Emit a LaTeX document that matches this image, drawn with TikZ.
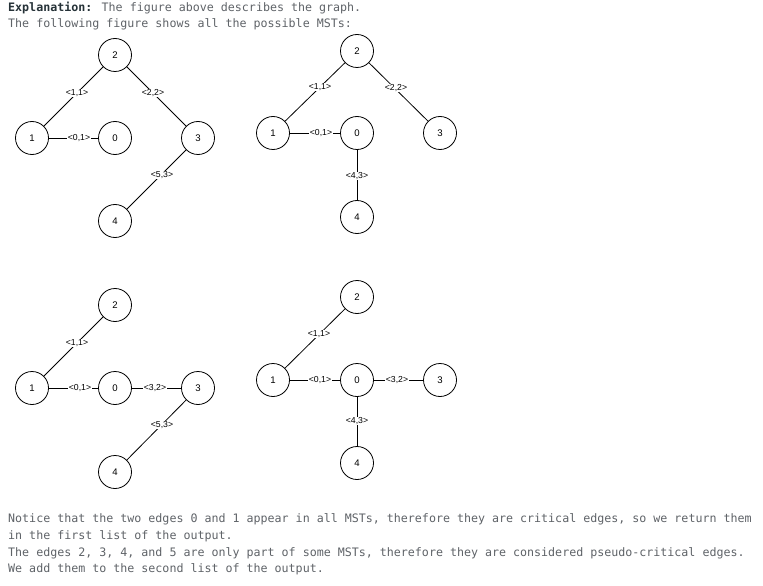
\documentclass[tikz,border=0pt]{standalone}
\usepackage{fontspec}
\setmainfont{Liberation Sans}
\newfontfamily\codefont{DejaVu Sans Mono}
\definecolor{txtgray}{RGB}{95,99,104}
\definecolor{txtdark}{RGB}{38,50,56}
\tikzset{
  vtx/.style={circle,draw=black,line width=0.8bp,fill=white,minimum size=33bp,inner sep=0pt,font=\fontsize{9.6bp}{10bp}\selectfont},
  edge/.style={draw=black,line width=0.8bp},
  lbl/.style={fill=white,inner sep=0.6bp,font=\fontsize{8.7bp}{9bp}\selectfont},
  para/.style={anchor=base west,inner sep=0pt,text=txtgray,font=\codefont\fontsize{11.65bp}{16.7bp}\selectfont}
}
\begin{document}
\begin{tikzpicture}[x=1bp,y=-1bp]
\useasboundingbox[fill=white] (0,0) rectangle (763,586);

% header text
\node[para] (t1) at (8,12) {\textcolor{txtdark}{\bfseries Explanation:} The figure above describes the graph.};
\node[para] (t2) at (8,28) {The following figure shows all the possible MSTs:};

% ---------- Graph A (top left)
\node[vtx] (a2) at (115,55) {2};
\node[vtx] (a1) at (32,138) {1};
\node[vtx] (a0) at (115,138) {0};
\node[vtx] (a3) at (198,138) {3};
\node[vtx] (a4) at (115,221) {4};
\draw[edge] (a1) -- (a2);
\draw[edge] (a2) -- (a3);
\draw[edge] (a1) -- (a0);
\draw[edge] (a3) -- (a4);
\node[lbl] (la12) at (77,93) {<1,1>};
\node[lbl] (la23) at (153,93) {<2,2>};
\node[lbl] (la10) at (79,138) {<0,1>};
\node[lbl] (la34) at (162,175) {<5,3>};

% ---------- Graph B (top right)
\node[vtx] (b2) at (357,51) {2};
\node[vtx] (b1) at (273,133) {1};
\node[vtx] (b0) at (357,133) {0};
\node[vtx] (b3) at (440,133) {3};
\node[vtx] (b4) at (357,217) {4};
\draw[edge] (b1) -- (b2);
\draw[edge] (b2) -- (b3);
\draw[edge] (b1) -- (b0);
\draw[edge] (b0) -- (b4);
\node[lbl] (lb12) at (320,87) {<1,1>};
\node[lbl] (lb23) at (396,88) {<2,2>};
\node[lbl] (lb10) at (321,133) {<0,1>};
\node[lbl] (lb04) at (357,176) {<4,3>};

% ---------- Graph C (bottom left)
\node[vtx] (c2) at (115,305) {2};
\node[vtx] (c1) at (32,388) {1};
\node[vtx] (c0) at (115,388) {0};
\node[vtx] (c3) at (198,388) {3};
\node[vtx] (c4) at (115,472) {4};
\draw[edge] (c1) -- (c2);
\draw[edge] (c1) -- (c0);
\draw[edge] (c0) -- (c3);
\draw[edge] (c3) -- (c4);
\node[lbl] (lc12) at (77,343) {<1,1>};
\node[lbl] (lc10) at (80,388) {<0,1>};
\node[lbl] (lc03) at (155,388) {<3,2>};
\node[lbl] (lc34) at (162,425) {<5,3>};

% ---------- Graph D (bottom right)
\node[vtx] (d2) at (357,297) {2};
\node[vtx] (d1) at (273,380) {1};
\node[vtx] (d0) at (357,380) {0};
\node[vtx] (d3) at (440,380) {3};
\node[vtx] (d4) at (357,463) {4};
\draw[edge] (d1) -- (d2);
\draw[edge] (d1) -- (d0);
\draw[edge] (d0) -- (d3);
\draw[edge] (d0) -- (d4);
\node[lbl] (ld12) at (319,334) {<1,1>};
\node[lbl] (ld10) at (320,380) {<0,1>};
\node[lbl] (ld03) at (397,380) {<3,2>};
\node[lbl] (ld04) at (357,421) {<4,3>};

% footer text
\node[para] (f1) at (8,522) {Notice that the two edges 0 and 1 appear in all MSTs, therefore they are critical edges, so we return them};
\node[para] (f2) at (8,539) {in the first list of the output.};
\node[para] (f3) at (8,556) {The edges 2, 3, 4, and 5 are only part of some MSTs, therefore they are considered pseudo-critical edges.};
\node[para] (f4) at (8,572) {We add them to the second list of the output.};
\end{tikzpicture}
\end{document}
